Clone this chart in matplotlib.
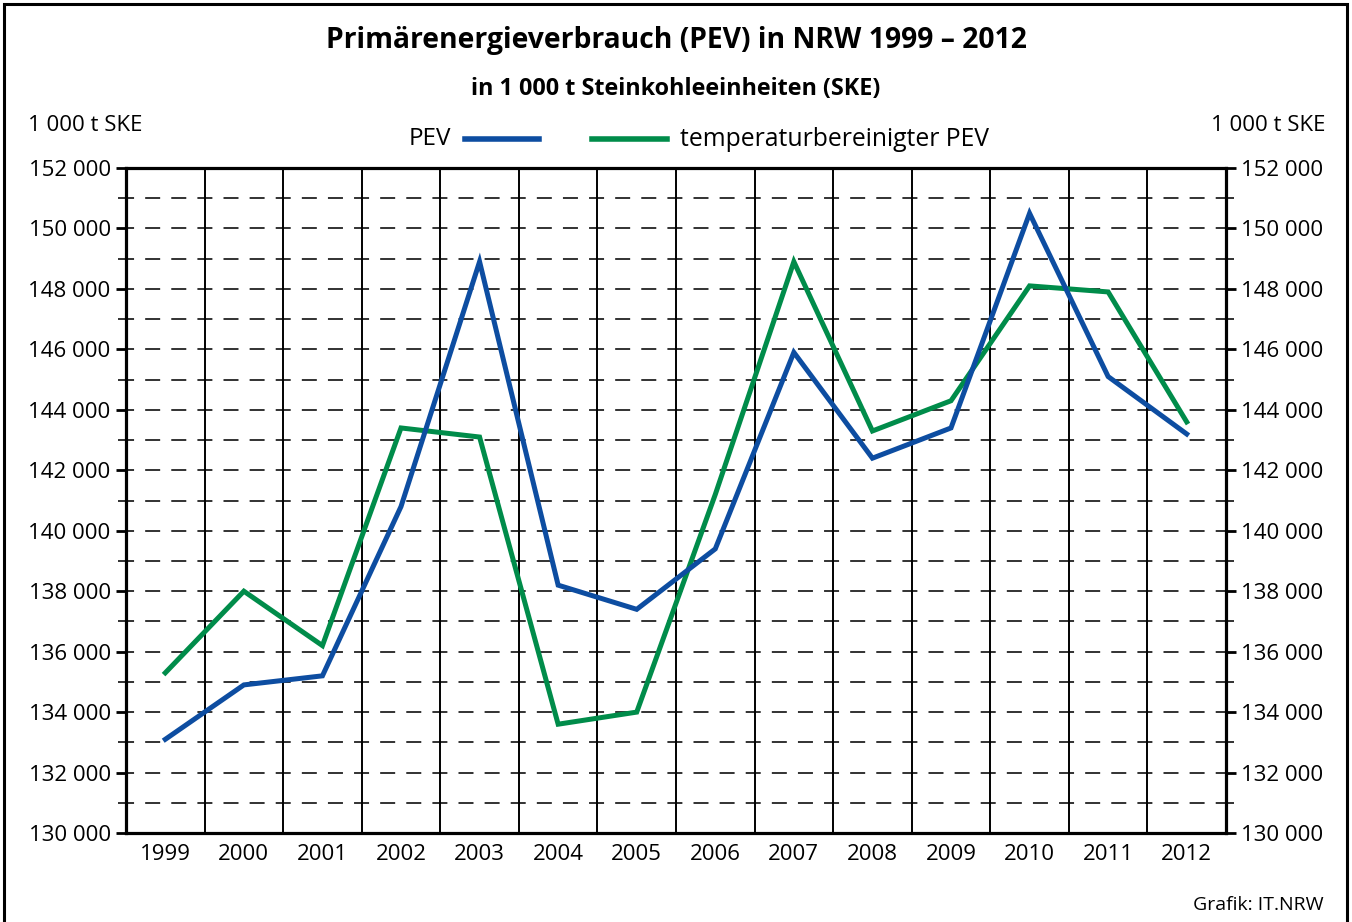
import matplotlib.pyplot as plt
from matplotlib.lines import Line2D
from matplotlib.patches import Rectangle
from matplotlib.ticker import MultipleLocator, FuncFormatter

plt.rcParams['font.family'] = ['Open Sans', 'DejaVu Sans']
plt.rcParams['lines.scale_dashes'] = False

years = [1999, 2000, 2001, 2002, 2003, 2004, 2005, 2006, 2007, 2008, 2009, 2010, 2011, 2012]
pev = [133100, 134900, 135200, 140800, 148900, 138200, 137400, 139400, 145900, 142400, 143400, 150500, 145100, 143200]
pev_temp = [135300, 138000, 136200, 143400, 143100, 133600, 134000, 141200, 148900, 143300, 144300, 148100, 147900, 143600]

blue = '#0D4DA1'
green = '#008C4A'

fig = plt.figure(figsize=(13.52, 9.22), dpi=100)
ax = fig.add_axes([0.0932, 0.0965, 0.8136, 0.7213])

# frame around the whole graphic
fig.add_artist(Rectangle((0.003, -0.01), 0.993, 1.006, transform=fig.transFigure,
                         fill=False, lw=2.2, ec='black'))

ax.set_xlim(1998.5, 2012.5)
ax.set_ylim(130000, 152000)

# dashed horizontal grid, every 1000
for v in range(131000, 152000, 1000):
    ax.axhline(v, color='#222222', lw=1.3, linestyle=(5, (10.8, 8.0)), zorder=1)

# vertical lines between years
for b in range(1999, 2012):
    ax.axvline(b + 0.5, color='black', lw=1.4, zorder=1)

ax.plot(years, pev, color=blue, lw=3.6, zorder=3, solid_joinstyle='miter')
ax.plot(years, pev_temp, color=green, lw=3.6, zorder=2, solid_joinstyle='miter')

for s in ax.spines.values():
    s.set_linewidth(2.3)

ax.set_xticks(years)
ax.set_xticklabels([str(y) for y in years])
ax.tick_params(axis='x', length=0, pad=8, labelsize=16)

ax.yaxis.set_major_locator(MultipleLocator(2000))
ax.yaxis.set_minor_locator(MultipleLocator(1000))
ax.yaxis.set_major_formatter(FuncFormatter(lambda v, p: f'{int(v):,}'.replace(',', ' ')))
ax.tick_params(axis='y', which='major', length=7, width=2, direction='out',
               left=True, right=True, labelleft=True, labelright=True, labelsize=16, pad=4)
ax.tick_params(axis='y', which='minor', length=6, width=1.3, direction='out',
               left=True, right=True, color='#222222')

fig.text(0.5, 0.956, 'Primärenergieverbrauch (PEV) in NRW 1999 – 2012',
         ha='center', va='center', fontsize=20.3, fontweight='bold')
fig.text(0.5, 0.904, 'in 1 000 t Steinkohleeinheiten (SKE)',
         ha='center', va='center', fontsize=16.8, fontweight='bold')

fig.text(0.021, 0.864, '1 000 t SKE', ha='left', va='center', fontsize=16)
fig.text(0.980, 0.864, '1 000 t SKE', ha='right', va='center', fontsize=16)

# legend
fig.text(0.334, 0.849, 'PEV', ha='right', va='center', fontsize=17.5)
fig.add_artist(Line2D([0.344, 0.399], [0.849, 0.849], transform=fig.transFigure, color=blue, lw=4))
fig.add_artist(Line2D([0.438, 0.493], [0.849, 0.849], transform=fig.transFigure, color=green, lw=4))
fig.text(0.503, 0.849, 'temperaturbereinigter PEV', ha='left', va='center', fontsize=17.8)

fig.text(0.979, 0.018, 'Grafik: IT.NRW', ha='right', va='center', fontsize=14)

fig.savefig('out.png', dpi=100, facecolor='white')
